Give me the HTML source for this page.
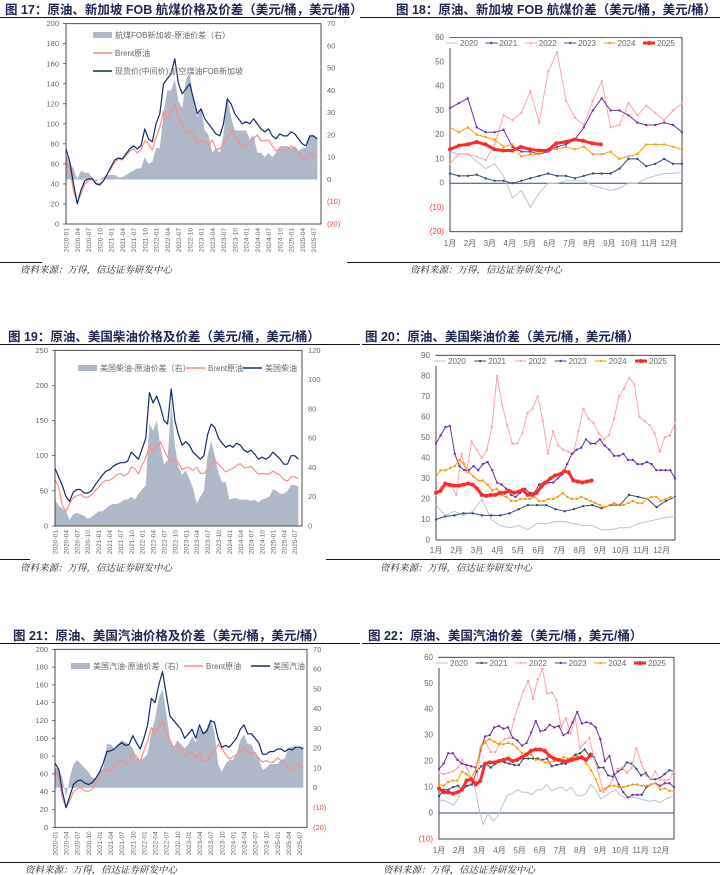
<!DOCTYPE html>
<html><head><meta charset="utf-8">
<style>
html,body{margin:0;padding:0;background:#fff;}
svg{display:block;font-family:"Liberation Sans","Noto Sans CJK SC",sans-serif;}
.t{font-weight:bold;font-size:12.5px;fill:#1b2550;}
.src{font-style:italic;font-size:9.5px;fill:#222;font-family:"Liberation Serif","Noto Serif CJK SC",serif;}
.tk{font-size:7.5px;fill:#666;}
.lg{font-size:8px;fill:#666;}
</style></head>
<body>
<svg id="s" width="720" height="875" viewBox="0 0 720 875" xmlns="http://www.w3.org/2000/svg">
<text class="t" x="5" y="14">图 17：原油、新加坡 FOB 航煤价格及价差（美元/桶，美元/桶）</text>
<text class="t" x="396" y="14">图 18：原油、新加坡 FOB 航煤价差（美元/桶，美元/桶）</text>
<text class="t" x="8" y="341">图 19：原油、美国柴油价格及价差（美元/桶，美元/桶）</text>
<text class="t" x="365" y="341">图 20：原油、美国柴油价差（美元/桶，美元/桶）</text>
<text class="t" x="13" y="640">图 21：原油、美国汽油价格及价差（美元/桶，美元/桶）</text>
<text class="t" x="368" y="640">图 22：原油、美国汽油价差（美元/桶，美元/桶）</text>
<g stroke="#111" stroke-width="1">
<line x1="0" y1="17.5" x2="350" y2="17.5"/><line x1="360" y1="17.5" x2="720" y2="17.5"/>
<line x1="0" y1="344.5" x2="360" y2="344.5"/><line x1="362" y1="344.5" x2="720" y2="344.5"/>
<line x1="0" y1="643.5" x2="360" y2="643.5"/><line x1="362" y1="643.5" x2="720" y2="643.5"/>
<line x1="0" y1="262.5" x2="42" y2="262.5"/><line x1="347" y1="262.5" x2="720" y2="262.5"/>
<line x1="0" y1="559.5" x2="30" y2="559.5"/><line x1="326" y1="559.5" x2="720" y2="559.5"/>
<line x1="0" y1="862.5" x2="720" y2="862.5"/>
</g>
<text class="src" x="20" y="273">资料来源：万得，信达证券研发中心</text>
<text class="src" x="410" y="273">资料来源：万得，信达证券研发中心</text>
<text class="src" x="20" y="571">资料来源：万得，信达证券研发中心</text>
<text class="src" x="380" y="571">资料来源：万得，信达证券研发中心</text>
<text class="src" x="25" y="873">资料来源：万得，信达证券研发中心</text>
<text class="src" x="383" y="873">资料来源：万得，信达证券研发中心</text>
</svg>
<script>
const brent = [64,55,33,22,30,40,43,45,41,40,43,50, 55,62,65,64,68,73,75,71,74,83,80,74, 86,97,112,105,113,120,106,98,90,92,90,81, 83,83,78,84,75,75,80,86,93,88,82,77, 79,82,85,89,83,83,84,78,73,75,73,73, 78,75,72,66,64,70,70,67];
const jet = [75,62,40,20,34,43,45,45,40,39,43,50, 57,64,66,65,70,75,78,75,78,95,85,82, 100,110,140,145,150,165,140,130,135,140,125,110, 115,105,100,95,90,88,100,125,120,110,105,100, 102,100,105,100,95,92,95,88,85,90,88,88, 92,90,85,80,78,88,88,85];
const jetSpread = [11,7,5,0,4,3,3,1,-1,0,1,2, 2,2,1,1,2,3,4,5,5,10,7,8, 14,14,30,40,40,45,35,32,45,48,35,28, 32,22,20,12,14,12,20,38,28,22,22,22, 22,18,20,12,12,10,12,10,12,15,15,15, 14,15,13,14,14,19,20,18];
const diesel = [82,70,58,42,35,48,52,52,47,47,50,58, 65,72,78,80,85,88,90,90,92,105,100,95, 110,125,190,175,185,170,150,145,195,150,130,115, 120,115,105,100,95,100,130,145,140,125,118,112, 115,112,118,115,108,105,108,102,95,98,95,98, 105,100,95,88,88,100,100,95];
const brent2 = [66,56,30,20,32,40,43,45,41,41,44,50, 55,62,65,65,68,73,75,71,74,84,82,74, 87,97,115,105,113,120,108,98,92,95,90,80, 83,83,79,84,75,75,80,86,93,88,82,77, 80,82,86,89,83,83,85,79,74,75,74,74, 78,75,72,66,64,70,70,67];
const dieselSpread = [18,14,12,10,4,8,9,8,7,5,6,8, 10,10,12,14,15,15,16,18,18,20,18,22, 25,28,70,65,72,55,42,45,85,55,40,35, 38,32,26,15,20,24,48,58,48,36,30,30, 18,19,19,18,18,18,17,18,16,18,19,20, 25,24,22,22,24,28,28,27];
const gasoline = [72,65,40,22,35,48,52,53,50,48,50,55, 62,72,85,86,88,92,95,92,93,103,95,88, 100,115,145,140,160,175,150,125,120,115,110,100, 105,110,100,115,105,108,120,118,100,90,92,90, 95,100,110,115,105,105,100,95,82,82,85,85, 88,88,85,88,87,90,90,88];
const gasSpread = [10,10,5,-5,5,12,14,12,10,8,5,5, 8,10,22,22,20,22,24,23,22,20,15,14, 15,17,28,35,45,50,38,25,20,24,22,20, 22,26,23,30,28,30,35,28,12,8,12,14, 14,17,24,27,22,22,17,15,9,10,12,12, 12,14,15,20,21,21,20,21];
const dateLabels = ["2020-01","2020-04","2020-07","2020-10","2021-01","2021-04","2021-07","2021-10","2022-01","2022-04","2022-07","2022-10","2023-01","2023-04","2023-07","2023-10","2024-01","2024-04","2024-07","2024-10","2025-01","2025-04","2025-07"];

const j2020 = [13,12,12,9,6,8,3,-6,-3,-10,-4,0,0,1,1,1,-1,-2,-3,-2,0,0,2,3,4,4,4.5];
const j2021 = [4,3,3,3.5,2,1,1,0,1,2,3,4,3,3,2,3,4,4,4,6,10,10,7,8,10,8,8];
const j2022 = [8,12,12,11,9.5,16,28,26,29,38,25,46,54,34,27,24,34,42,23,24,33,28,32,29,26,30,33];
const j2023 = [31,33,35,23,21,21,22,15,13,13,12,13,15,16,18,23,30,35,30,30,28,25,24,24,25,24,21];
const j2024 = [23,21,23,20,19,18,15,16,11,12,12,14,14,15,14,15,12,12,13,10,11,12,16,16,16,15,14];
const j2025 = [14,15.5,16,17,16,14,13.5,13.5,15,14,13.5,13.5,16.5,17,18,17.5,16.5,16];
const d2020 = [17,12,14,12,14,20,10,7,6,7,5,8,8,9,9,8,7,7,5,5,6,6,8,9,10,11,11.5];
const d2021 = [10,11.5,12,13,13,12,12,12,13,15,17,17,17,15,14,15,16.5,17,15.5,17,17,22,21,20,16,19,21];
const d2022 = [22,26,26,26,22,42,33,48,44,40,44,55,80,66,56,47,47,52,62,64,70,58,42,53,46,44,43,42,53,64,59,57,52,49,51,59,70,74,79,76,60,58,56,52,43,50,51,57];
const d2023 = [47,51,55,55.5,42,36,34,34,36,34,37,38,34,28,27,25,22,21,23,25,23,23,27,28,28,28,30,32,37,42,44,45,49,47,47,49,46,44,41,41,42,39,39,37,37,38,37,34,34,34,34,30];
const d2024 = [31,34,34,35,36,39,37,33,31,29,29,27,24,25,22,21,19,19,20,20,20,21,19,19,20,20,21,23,21,20,20,21,20,19,18,17,16,17,18,17,17,18,19,18,18,20,21,21,19,20,21,20.5];
const d2025 = [23,24,27.5,27,26.5,26.5,27,27.5,27,25,22,21.5,22,22,23,23,24,23,23.5,24.5,22,22,23,26,28,30,31.5,32,33.5,33,29,28.5,28,28.5,29];
const g2020 = [4.5,5,4,3,6,10,10.5,13,3,-4.5,0,-3,-1.5,3,7,7.5,9,8,8,7,9,9,11,8.5,9.5,10,8.5,10,7,6.5,7.5,11,9,5.5,6.5,8,9,7,6,6,6,5.5,5,4.5,5,4,5,6,6.5];
const g2021 = [6.5,9,9,10,10.5,9,10.5,11,16,18,19,17.5,19,20,19.5,19,18.5,18.5,21,21,21,21,20.5,21,18,18.5,19,19,21,22.5,23,24.5,22,21.5,17.5,17.5,14.5,14,16,17,19.5,19,17,14.5,15.5,13,13,13.5,15,16.5,16];
const g2022 = [15.5,15,15.5,16,17.5,20.5,17,13,12,26,27,23.5,23.5,27,28.5,29,36,42,47,51,44,51.5,55.5,46,46.5,43.5,33,36.5,30.5,36.5,25,27,29,21,15,8,10,13,17,17.5,15.5,17.5,25,19.5,14.5,13,16,13,12.5,13,16];
const g2023 = [17,19,23,23,20.5,19,18.5,18,17.5,24,29.5,30,33,33.5,32.5,33,29,28,26,27,31,35.5,31.5,32,34,33,33.5,30,31,35,39,34.5,35,34.5,33,28.5,20,22,15,11,8,6,7,7,7,10,11,11.5,10.5,11.5,11.5,10];
const g2024 = [11,10.5,12,12.5,12.5,16,15,13.5,17,25,27.5,28.5,27.5,26.5,26.5,27,26.5,25,23,23,22.5,20.5,20.5,19.5,19.5,20,20.5,21.5,21,21.5,22,21,19,16.5,13,8.5,9.5,10.5,10.5,10,10,10.5,11,11,10.5,10.5,11,11.5,9,9.5,8.5,8.5];
const g2025 = [9.5,8,8,7.5,8,9,12.5,13,11,12.5,19,19.5,19.5,20,20.5,21,20,20.5,21.5,22.5,24,24.5,24.5,24,22,21,20.5,20,20,20.5,21,21.5,20.5,22.5];
const years = ["2020","2021","2022","2023","2024","2025"];
const months = ["1月","2月","3月","4月","5月","6月","7月","8月","9月","10月","11月","12月"];

const NS = "http://www.w3.org/2000/svg";
const svg = document.getElementById("s");
function mk(tag, attrs, parent){const e=document.createElementNS(NS,tag);for(const k in attrs)e.setAttribute(k,attrs[k]);(parent||svg).appendChild(e);return e;}
function fmt(v){return v<0?"("+(-v)+")":String(v);}

function drawTS(c){
  const g = mk("g",{});
  
  
  const W=c.R-c.L, n=c.line.length;
  const xs=i=>c.L+i*W/n;
  const yl=v=>c.B-(v-c.lmin)/(c.lmax-c.lmin)*(c.B-c.T);
  const yr=v=>c.B-(v-c.rmin)/(c.rmax-c.rmin)*(c.B-c.T);
  let d="M"+xs(0)+","+yr(0);
  c.spread.forEach((v,i)=>{d+=" L"+xs(i).toFixed(1)+","+yr(v).toFixed(1);});
  d+=" L"+xs(n-1)+","+yr(0)+" Z";
  const a=mk("path",{d:d,fill:"#aeb8c9",stroke:"none"},g);
  
  
  function line(arr,col,nm){
    let p="";arr.forEach((v,i)=>{p+=(i?" L":"M")+xs(i).toFixed(1)+","+yl(v).toFixed(1);});
    const l=mk("path",{d:p,fill:"none",stroke:col,"stroke-width":1.2,"stroke-linejoin":"round"},g);
    
    
  }
  line(c.crude,"#ff8a8a","brent-line");
  line(c.line,"#0d2a66","product-line");
  const f=mk("rect",{x:c.L,y:c.T,width:W,height:c.B-c.T,fill:"none",stroke:"#222","stroke-width":0.8},g);
  
  
  for(let v=c.lmin;v<=c.lmax;v+=c.lstep){
    const t=mk("text",{x:c.L-7,y:yl(v)+2.5,"text-anchor":"end",class:"tk"},g);t.textContent=fmt(v);
    
    
    mk("line",{x1:c.L-3,x2:c.L,y1:yl(v),y2:yl(v),stroke:"#222","stroke-width":0.6},g);
  }
  for(let v=c.rmin;v<=c.rmax;v+=c.rstep){
    const t=mk("text",{x:c.R+6,y:yr(v)+2.5,class:"tk"},g);t.textContent=fmt(v);
    if(v<0)t.setAttribute("style","fill:#ff3b3b");
    
    
  }
  dateLabels.forEach((s,k)=>{
    const x=xs(k*3)+2.5;
    const t=mk("text",{x:x,y:c.B+4,"text-anchor":"end",class:"tk",transform:"rotate(-90 "+x+" "+(c.B+4)+")",style:"font-size:6.6px"},g);
    t.textContent=s;
    
    
  });
  c.legend.forEach(L=>{
    if(L.type==="area"){mk("rect",{x:L.x,y:L.y-3,width:19,height:6,fill:"#aeb8c9"},g);}
    else mk("line",{x1:L.x,x2:L.x+19,y1:L.y,y2:L.y,stroke:L.col,"stroke-width":1.5},g);
    const t=mk("text",{x:L.x+22,y:L.y+3,class:"lg"},g);t.textContent=L.text;
    
    
  });
}

const yColors=["#b9c3d6","#2f4a7a","#ffa3aa","#7030a0","#ff9900","#ff2a2a"];
function drawYear(c){
  const g=mk("g",{});
  
  
  const W=c.R-c.L;
  const y=v=>c.B-(v-c.min)/(c.max-c.min)*(c.B-c.T);
  const f=mk("rect",{x:c.L,y:c.T,width:W,height:c.B-c.T,fill:"none",stroke:"#333","stroke-width":0.9},g);
  
  
  if(c.min<0){mk("line",{x1:c.L,x2:c.R,y1:y(0),y2:y(0),stroke:"#2f4a7a","stroke-width":1},g);}
  for(let v=c.min;v<=c.max;v+=c.step){
    const t=mk("text",{x:c.L-6,y:y(v)+2.5,"text-anchor":"end",class:"tk",style:"font-size:8px"+(v<0?";fill:#ff3b3b":"")},g);
    t.textContent=fmt(v);
    
    
  }
  months.forEach((m,k)=>{
    const t=mk("text",{x:c.L+k*W/11.65,y:c.my,"text-anchor":"middle",class:"tk",style:"font-size:8px"},g);
    t.textContent=m;
    
    
  });
  c.series.forEach((arr,si)=>{
    const span=si===5?c.endFrac*W:W;
    const xs=i=>c.L+i*span/(arr.length-1);
    let p="";arr.forEach((v,i)=>{p+=(i?" L":"M")+xs(i).toFixed(1)+","+y(v).toFixed(1);});
    const sw=si===5?3:1;
    const l=mk("path",{d:p,fill:"none",stroke:yColors[si],"stroke-width":sw,"stroke-linejoin":"round"},g);
    
    
    if(si>0){arr.forEach((v,i)=>{mk("circle",{cx:xs(i),cy:y(v),r:si===5?2:1.2,fill:yColors[si]},g);});}
    const tx=c.lx+si*c.lsp;
    mk("rect",{x:tx-16,y:c.ly-5,width:38,height:10,fill:"#fff"},g);
    mk("line",{x1:tx-14,x2:tx-2,y1:c.ly,y2:c.ly,stroke:yColors[si],"stroke-width":si===5?3:1},g);
    if(si>0)mk("circle",{cx:tx-8,cy:c.ly,r:si===5?2:1.2,fill:yColors[si]},g);
    const t=mk("text",{x:tx,y:c.ly+3,class:"lg",style:"font-size:8px"},g);t.textContent=years[si];
    
    
  });
}

drawTS({name:"chart17-jet-fuel",L:66,R:321,T:23.7,B:224,lmin:0,lmax:200,lstep:20,rmin:-20,rmax:70,rstep:10,
  line:jet,crude:brent,spread:jetSpread,
  legend:[{type:"area",x:93,y:35,text:"航煤FOB新加坡-原油价差（右）"},{x:93,y:53,col:"#ff8a8a",text:"Brent原油"},{x:93,y:71,col:"#0d2a66",text:"现货价(中间价):航空煤油FOB新加坡"}]});
drawTS({name:"chart19-diesel",L:55,R:302,T:350.3,B:526,lmin:0,lmax:250,lstep:50,rmin:0,rmax:120,rstep:20,
  line:diesel,crude:brent2,spread:dieselSpread,
  legend:[{type:"area",x:78,y:368,text:"美国柴油-原油价差（右）"},{x:186,y:368,col:"#ff8a8a",text:"Brent原油"},{x:243,y:368,col:"#0d2a66",text:"美国柴油"}]});
drawTS({name:"chart21-gasoline",L:55,R:307,T:649.3,B:827.3,lmin:0,lmax:200,lstep:20,rmin:-20,rmax:70,rstep:10,
  line:gasoline,crude:brent,spread:gasSpread,
  legend:[{type:"area",x:71,y:666,text:"美国汽油-原油价差（右）"},{x:184,y:666,col:"#ff8a8a",text:"Brent原油"},{x:251,y:666,col:"#0d2a66",text:"美国汽油"}]});
drawYear({name:"chart18-jet-spread",L:450,R:682,T:37.7,B:231.7,min:-20,max:60,step:10,my:246,lx:460,lsp:39.4,ly:43,endFrac:0.65,
  series:[j2020,j2021,j2022,j2023,j2024,j2025]});
drawYear({name:"chart20-diesel-spread",L:436,R:675,T:355.3,B:540,min:0,max:90,step:10,my:553,lx:448,lsp:40.2,ly:361,endFrac:0.651,
  series:[d2020,d2021,d2022,d2023,d2024,d2025]});
drawYear({name:"chart22-gasoline-spread",L:439,R:674,T:657.3,B:839,min:-10,max:60,step:10,my:853,lx:450,lsp:39.6,ly:663,endFrac:0.646,
  series:[g2020,g2021,g2022,g2023,g2024,g2025]});
</script>
</body></html>
